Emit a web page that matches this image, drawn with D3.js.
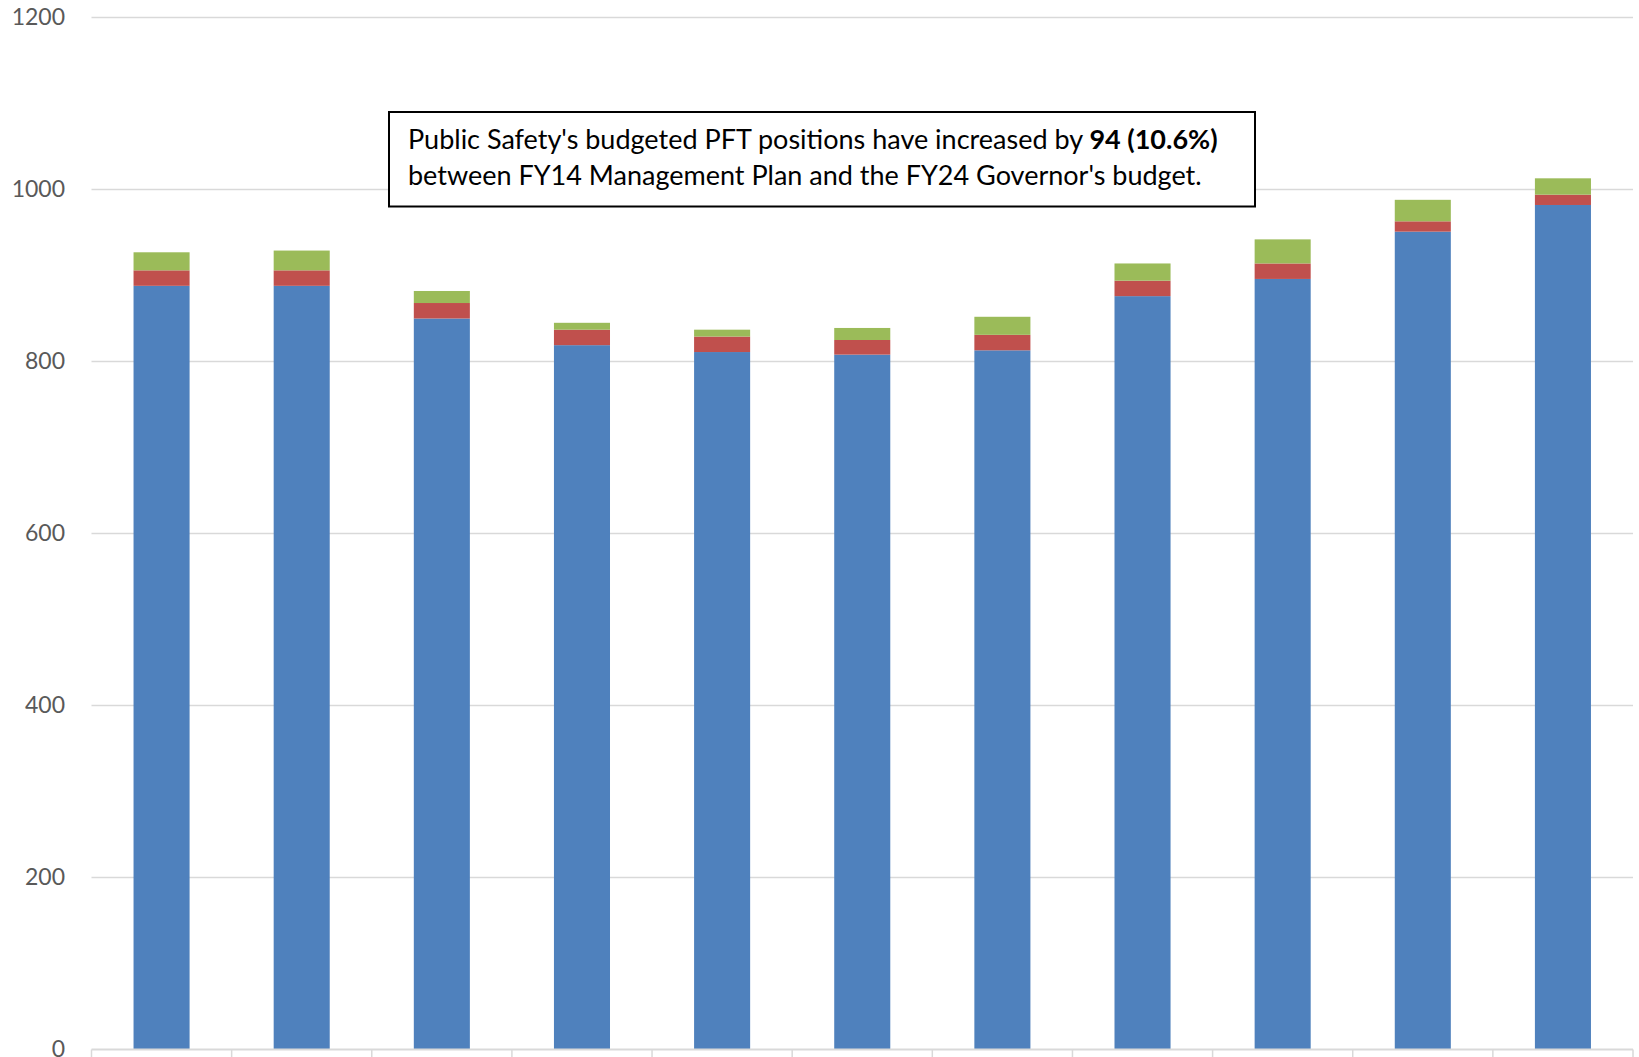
<!DOCTYPE html>
<html>
<head>
<meta charset="utf-8">
<script src="https://cdn.jsdelivr.net/npm/d3@7"></script>
<style>
  body { margin: 0; background: #fff; }
  svg { display: block; }
</style>
</head>
<body>
<svg id="chart"></svg>
<script>
// fiscal years (no labels drawn on the axis in the original)
var years = ["FY14", "FY15", "FY16", "FY17", "FY18", "FY19", "FY20", "FY21", "FY22", "FY23", "FY24"];
var pft = [888, 888, 850, 819, 811, 808, 813, 876, 896, 951, 982];
var ppt = [18, 18, 18, 18, 18, 17, 18, 18, 18, 12, 12];
var nonPerm = [21, 23, 14, 8, 8, 14, 21, 20, 28, 25, 19];
var yTicks = [0, 200, 400, 600, 800, 1000, 1200];
var seriesKeys = ["pft", "ppt", "nonPerm"];
var seriesColors = ["#4F81BD", "#C0504D", "#9BBB59"];
var noteLine1 = "Public Safety's budgeted PFT positions have increased by ";
var noteBold = "94 (10.6%)";
var noteLine2 = "between FY14 Management Plan and the FY24 Governor's budget.";

var width = 1639,
    height = 1057;
var margin = {left: 91.5, right: 6, top: 17.5, bottom: 7.5};

var svg = d3.select("#chart")
    .attr("width", width)
    .attr("height", height);

var rows = years.map(function (y, i) {
    return {year: y, pft: pft[i], ppt: ppt[i], nonPerm: nonPerm[i]};
});

var x = d3.scaleBand()
    .domain(years)
    .range([margin.left, width - margin.right])
    .paddingInner(0.6)
    .paddingOuter(0.3);

var y = d3.scaleLinear()
    .domain([0, 1200])
    .range([height - margin.bottom, margin.top]);

// gridlines
svg.append("g")
    .selectAll("line")
    .data(yTicks.filter(function (d) { return d > 0; }))
    .enter().append("line")
    .attr("x1", margin.left)
    .attr("x2", width - margin.right)
    .attr("y1", function (d) { return y(d); })
    .attr("y2", function (d) { return y(d); })
    .style("stroke", "#d9d9d9")
    .style("stroke-width", 1.5);

// y axis labels
var yAxis = d3.axisLeft(y)
    .tickValues(yTicks)
    .tickFormat(d3.format("d"))
    .tickSize(0)
    .tickPadding(0);
var yg = svg.append("g")
    .attr("transform", "translate(65,0)")
    .call(yAxis);
yg.select(".domain").remove();
yg.selectAll("text")
    .style("font-family", "Lato, 'Open Sans', sans-serif")
    .style("font-size", "23px")
    .style("fill", "#595959");

// stacked bars
var stack = d3.stack().keys(seriesKeys);
var layers = stack(rows);

svg.append("g")
    .selectAll("g")
    .data(layers)
    .enter().append("g")
    .style("fill", function (d, i) { return seriesColors[i]; })
    .selectAll("rect")
    .data(function (d) { return d; })
    .enter().append("rect")
    .attr("x", function (d) { return x(d.data.year); })
    .attr("width", x.bandwidth())
    .attr("y", function (d) { return y(d[1]); })
    .attr("height", function (d) { return y(d[0]) - y(d[1]); });

// x axis line with ticks between categories
var xg = svg.append("g");
xg.append("line")
    .attr("x1", margin.left)
    .attr("x2", width - margin.right)
    .attr("y1", y(0))
    .attr("y2", y(0))
    .style("stroke", "#d9d9d9")
    .style("stroke-width", 2);
var edges = d3.range(years.length + 1).map(function (i) { return margin.left + i * x.step(); });
xg.selectAll(".tick")
    .data(edges)
    .enter().append("line")
    .attr("class", "tick")
    .attr("x1", function (d) { return d; })
    .attr("x2", function (d) { return d; })
    .attr("y1", y(0))
    .attr("y2", y(0) + 8)
    .style("stroke", "#d9d9d9")
    .style("stroke-width", 1.5);

// annotation box
var note = svg.append("g");
note.append("rect")
    .attr("x", 389)
    .attr("y", 112)
    .attr("width", 866)
    .attr("height", 94.5)
    .style("fill", "#fff")
    .style("stroke", "#000")
    .style("stroke-width", 2);

var t1 = note.append("text")
    .attr("x", 408)
    .attr("y", 149)
    .style("font-family", "Lato, 'Open Sans', sans-serif")
    .style("font-size", "27px")
    .style("fill", "#000");
t1.append("tspan").text(noteLine1);
t1.append("tspan").style("font-weight", "bold").text(noteBold);

note.append("text")
    .attr("x", 408)
    .attr("y", 185)
    .style("font-family", "Lato, 'Open Sans', sans-serif")
    .style("font-size", "27px")
    .style("fill", "#000")
    .text(noteLine2);
</script>
</body>
</html>
